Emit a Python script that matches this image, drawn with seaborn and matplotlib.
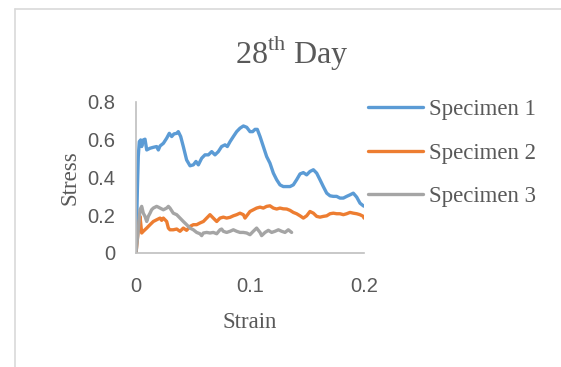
import matplotlib
matplotlib.use("Agg")
import matplotlib.pyplot as plt
import seaborn as sns
import pandas as pd
from matplotlib.lines import Line2D

sns.set_style("white")
plt.rcParams['mathtext.fontset'] = 'custom'
plt.rcParams['mathtext.rm'] = 'Liberation Serif'

s1_strain = [0, 0.0012, 0.0020, 0.0029, 0.0041, 0.0050, 0.0064, 0.0079, 0.0094, 0.0123, 0.0152, 0.0181, 0.0196,
             0.0211, 0.0240, 0.0269, 0.0292, 0.0313, 0.0333, 0.0357, 0.0371, 0.0392, 0.0415, 0.0444, 0.0474, 0.0503,
             0.0526, 0.0547, 0.0576, 0.0605, 0.0635, 0.0664, 0.0693, 0.0722, 0.0751, 0.0781, 0.0801, 0.0825, 0.0854,
             0.0883, 0.0912, 0.0942, 0.0971, 0.1000, 0.1023, 0.1044, 0.1064, 0.1088, 0.1117, 0.1146, 0.1175, 0.1205,
             0.1234, 0.1263, 0.1292, 0.1322, 0.1351, 0.1380, 0.1409, 0.1439, 0.1468, 0.1497, 0.1526, 0.1556, 0.1585,
             0.1614, 0.1643, 0.1673, 0.1702, 0.1731, 0.1760, 0.1789, 0.1819, 0.1848, 0.1877, 0.1906, 0.1936, 0.1965,
             0.1994, 0.2000]
s1_stress = [0, 0.335, 0.511, 0.590, 0.599, 0.564, 0.599, 0.603, 0.546, 0.555, 0.560, 0.564, 0.546,
             0.567, 0.581, 0.608, 0.634, 0.617, 0.631, 0.634, 0.643, 0.617, 0.564, 0.493, 0.462, 0.467,
             0.485, 0.467, 0.502, 0.520, 0.520, 0.537, 0.520, 0.537, 0.564, 0.573, 0.564, 0.590, 0.617,
             0.643, 0.661, 0.673, 0.666, 0.643, 0.643, 0.655, 0.655, 0.617, 0.564, 0.511, 0.476, 0.423,
             0.388, 0.361, 0.352, 0.352, 0.352, 0.361, 0.388, 0.419, 0.426, 0.414, 0.432, 0.441, 0.423,
             0.388, 0.352, 0.317, 0.303, 0.300, 0.300, 0.291, 0.291, 0.300, 0.308, 0.317, 0.296, 0.264,
             0.250, 0.248]

s2_strain = [0, 0.0020, 0.0035, 0.0050, 0.0064, 0.0094, 0.0123, 0.0152, 0.0181, 0.0211, 0.0225, 0.0240, 0.0269,
             0.0284, 0.0298, 0.0327, 0.0357, 0.0386, 0.0415, 0.0444, 0.0474, 0.0503, 0.0532, 0.0561, 0.0591, 0.0620,
             0.0649, 0.0678, 0.0708, 0.0737, 0.0766, 0.0795, 0.0825, 0.0854, 0.0883, 0.0912, 0.0942, 0.0956, 0.0971,
             0.1000, 0.1029, 0.1058, 0.1088, 0.1117, 0.1146, 0.1175, 0.1205, 0.1234, 0.1263, 0.1292, 0.1322, 0.1351,
             0.1380, 0.1409, 0.1439, 0.1468, 0.1497, 0.1526, 0.1556, 0.1585, 0.1614, 0.1643, 0.1673, 0.1702, 0.1731,
             0.1760, 0.1789, 0.1819, 0.1848, 0.1877, 0.1906, 0.1936, 0.1965, 0.1994, 0.2000]
s2_stress = [0, 0.123, 0.194, 0.106, 0.115, 0.132, 0.150, 0.167, 0.176, 0.185, 0.173, 0.185, 0.167,
             0.132, 0.123, 0.123, 0.127, 0.115, 0.132, 0.120, 0.141, 0.150, 0.150, 0.159, 0.167, 0.185,
             0.203, 0.185, 0.167, 0.185, 0.190, 0.185, 0.189, 0.197, 0.203, 0.211, 0.203, 0.185, 0.197,
             0.220, 0.229, 0.238, 0.243, 0.238, 0.247, 0.250, 0.238, 0.233, 0.238, 0.234, 0.233, 0.226,
             0.215, 0.208, 0.197, 0.185, 0.197, 0.220, 0.211, 0.194, 0.190, 0.194, 0.197, 0.208, 0.211,
             0.208, 0.208, 0.203, 0.208, 0.215, 0.211, 0.208, 0.203, 0.194, 0.185]

s3_strain = [0, 0.0020, 0.0035, 0.0050, 0.0064, 0.0079, 0.0094, 0.0108, 0.0123, 0.0137, 0.0152, 0.0181, 0.0196,
             0.0211, 0.0240, 0.0269, 0.0284, 0.0298, 0.0327, 0.0357, 0.0386, 0.0415, 0.0444, 0.0474, 0.0503, 0.0532,
             0.0561, 0.0576, 0.0591, 0.0620, 0.0649, 0.0678, 0.0708, 0.0737, 0.0751, 0.0766, 0.0795, 0.0825, 0.0854,
             0.0883, 0.0912, 0.0942, 0.0971, 0.1000, 0.1029, 0.1058, 0.1088, 0.1102, 0.1132, 0.1161, 0.1190, 0.1219,
             0.1249, 0.1278, 0.1307, 0.1336, 0.1365]
s3_stress = [0, 0.123, 0.229, 0.247, 0.211, 0.194, 0.167, 0.194, 0.211, 0.229, 0.238, 0.247, 0.243,
             0.238, 0.229, 0.238, 0.247, 0.238, 0.211, 0.203, 0.185, 0.167, 0.150, 0.132, 0.123, 0.109,
             0.102, 0.092, 0.106, 0.109, 0.106, 0.109, 0.102, 0.123, 0.127, 0.115, 0.109, 0.115, 0.123,
             0.115, 0.109, 0.109, 0.106, 0.097, 0.115, 0.132, 0.109, 0.092, 0.109, 0.120, 0.109, 0.115,
             0.123, 0.115, 0.109, 0.123, 0.109]

series_names = ["Specimen 1", "Specimen 2", "Specimen 3"]
colors = ["#5B9BD5", "#ED7D31", "#A5A5A5"]
x_ticks = [0, 0.1, 0.2]
x_tick_labels = ["0", "0.1", "0.2"]
y_ticks = [0, 0.2, 0.4, 0.6, 0.8]
y_tick_labels = ["0", "0.2", "0.4", "0.6", "0.8"]

frames = []
for name, xs, ys in zip(series_names, [s1_strain, s2_strain, s3_strain], [s1_stress, s2_stress, s3_stress]):
    frames.append(pd.DataFrame({"Strain": xs, "Stress": ys, "Series": name}))
df = pd.concat(frames, ignore_index=True)

W, H = 561, 367
fig = plt.figure(figsize=(W / 100, H / 100), dpi=100)
ax = fig.add_axes([136 / W, 1 - 253 / H, 228 / W, 151 / H])

sns.lineplot(data=df, x="Strain", y="Stress", hue="Series", palette=dict(zip(series_names, colors)),
             estimator=None, sort=False, linewidth=2.4, ax=ax, legend=False)

ax.set_xlim(0, 0.2)
ax.set_ylim(0, 0.8)
ax.set_xticks(x_ticks)
ax.set_xticklabels(x_tick_labels)
ax.set_yticks(y_ticks)
ax.set_yticklabels(y_tick_labels)
ax.tick_params(axis='both', length=0, labelsize=14.5, labelcolor="#595959")
ax.tick_params(axis='x', pad=17)
ax.tick_params(axis='y', pad=15)
for lab in ax.get_xticklabels() + ax.get_yticklabels():
    lab.set_fontfamily("Liberation Sans")

for side in ["top", "right"]:
    ax.spines[side].set_visible(False)
for side in ["left", "bottom"]:
    ax.spines[side].set_color("#BFBFBF")
    ax.spines[side].set_linewidth(1.2)

serif = "Liberation Serif"
ax.set_xlabel("Strain", fontsize=16.5, fontfamily=serif, color="#595959", labelpad=12)
ax.set_ylabel("Stress", fontsize=16.5, fontfamily=serif, color="#595959", labelpad=5)

fig.text(292 / W, 1 - 52 / H, "28$^{\\mathrm{th}}$ Day", fontsize=23, fontfamily=serif,
         color="#595959", ha="center", va="center")

handles = [Line2D([], [], color=c, linewidth=2.4) for c in colors]
fig.legend(handles, series_names, loc="upper left", bbox_to_anchor=(368 / W, 1 - 99 / H),
           frameon=False, prop={"family": serif, "size": 16.5}, labelcolor="#595959",
           handlelength=2.4, handletextpad=0.25, labelspacing=0.98, borderpad=0, borderaxespad=0)

# chart area border
fig.add_artist(Line2D([15 / W, 15 / W], [0, 1 - 9 / H], transform=fig.transFigure, color="#D9D9D9", linewidth=1.2))
fig.add_artist(Line2D([15 / W, 1], [1 - 9 / H, 1 - 9 / H], transform=fig.transFigure, color="#D9D9D9", linewidth=1.2))

fig.savefig("out.png", dpi=100, facecolor="white")
